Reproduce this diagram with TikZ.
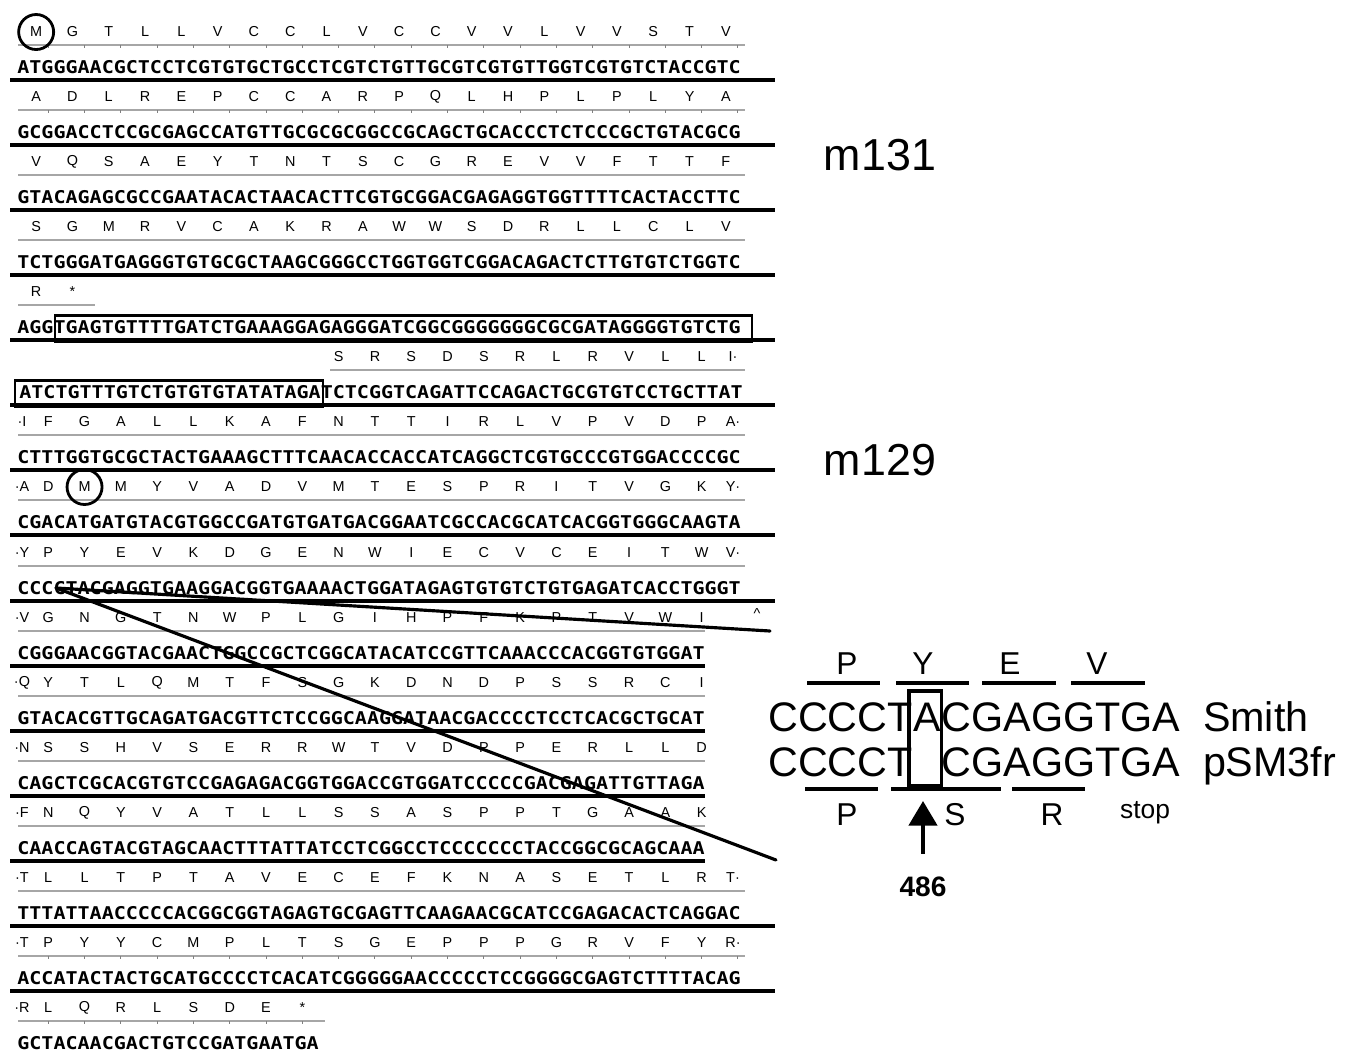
\documentclass[tikz,border=0pt]{standalone}
\usepackage{fontspec}
\setmainfont{Liberation Sans}
\newfontfamily\dnafont[FakeStretch=1.14]{DejaVu Sans Mono}
\usepackage{tikz}
\usetikzlibrary{arrows.meta, positioning, calc}
\tikzset{
  dna/.style={anchor=west, inner sep=0pt, font=\dnafont\bfseries\fontsize{10}{10}\selectfont},
  aa/.style={inner sep=0pt, font=\fontsize{8.2}{9}\selectfont},
  aarule/.style={draw=black!35, line width=1.1pt},
  aatick/.style={draw=black!50, line width=0.6pt},
  dnarule/.style={draw=black, line width=2.4pt},
  startM/.style={circle, draw=black, line width=1.6pt, minimum size=0.7cm, inner sep=0pt},
  intron/.style={draw=black, line width=1.7pt},
  gene/.style={font=\fontsize{25.5}{26}\selectfont, inner sep=0pt},
  zoomline/.style={draw=black, line width=1.8pt, line cap=round},
}

\begin{document}
\begin{tikzpicture}[
  x=0.02cm, y=-0.02cm,
  seq/.style={font=\fontsize{23.5}{24}\selectfont, inner sep=0pt, anchor=base west},
  codonbar/.style={draw=black, line width=2.2pt},
  codonlbl/.style={font=\fontsize{18}{18}\selectfont, inner sep=0pt},
  mutbox/.style={draw=black, line width=2pt},
  mutarrow/.style={-{Triangle[length=14pt,width=16pt]}, line width=2.3pt},
]
\useasboundingbox (0,0) rectangle (1350,1056);

  % thin rules under the amino acid rows
  \foreach \y in {45,110,175,240,435,500,566,891,956}
    \draw[aarule] (18,\y) -- (745,\y);
  \draw[aarule] (18,305) -- (95,305);
  \draw[aarule] (330,370) -- (745,370);
  \foreach \y in {631,696,761,826}
    \draw[aarule] (18,\y) -- (705,\y);
  \draw[aarule] (18,1021) -- (325,1021);
  \foreach \y in {45,110,956}
    \foreach \k in {0,...,19}
      \draw[aatick] ({18+(3*\k+2.5)*12.1},\y) -- ++(0,3);
  \foreach \k in {0,...,7}
    \draw[aatick] ({18+(3*\k+2.5)*12.1},1021) -- ++(0,3);

  % thick rules under the DNA rows
  \foreach \y in {80,145,210,275,340,405,470,535,601,926,991}
    \draw[dnarule] (10,\y) -- (775,\y);
  \foreach \y in {666,731,796,861}
    \draw[dnarule] (10,\y) -- (705,\y);

  % m131 frame
  \foreach \a [count=\i from 0] in {M,G,T,L,L,V,C,C,L,V,C,C,V,V,L,V,V,S,T,V}
    \node[aa] (r1a\i) at ({18+(3*\i+1.5)*12.1},32) {\a};
  \foreach \a [count=\i from 0] in {A,D,L,R,E,P,C,C,A,R,P,Q,L,H,P,L,P,L,Y,A}
    \node[aa] (r2a\i) at ({18+(3*\i+1.5)*12.1},97) {\a};
  \foreach \a [count=\i from 0] in {V,Q,S,A,E,Y,T,N,T,S,C,G,R,E,V,V,F,T,T,F}
    \node[aa] (r3a\i) at ({18+(3*\i+1.5)*12.1},162) {\a};
  \foreach \a [count=\i from 0] in {S,G,M,R,V,C,A,K,R,A,W,W,S,D,R,L,L,C,L,V}
    \node[aa] (r4a\i) at ({18+(3*\i+1.5)*12.1},227) {\a};
  \foreach \a [count=\i from 0] in {R,*}
    \node[aa] (r5a\i) at ({18+(3*\i+1.5)*12.1},292) {\a};

  % m129 frame
  \foreach \a [count=\i from 0] in {S,R,S,D,S,R,L,R,V,L,L}
    \node[aa] (r6a\i) at ({18+(25+3*\i+1.5)*12.1},357) {\a};
  \node[aa] (r6end) at (733,357) {I·};

  \node[aa] (r7lead) at (22,422) {·I};
  \foreach \a [count=\i from 0] in {F,G,A,L,L,K,A,F,N,T,T,I,R,L,V,P,V,D,P}
    \node[aa] (r7a\i) at ({18+(3*\i+2.5)*12.1},422) {\a};
  \node[aa] (r7end) at (733,422) {A·};

  \node[aa] (r8lead) at (22,487) {·A};
  \foreach \a [count=\i from 0] in {D,M,M,Y,V,A,D,V,M,T,E,S,P,R,I,T,V,G,K}
    \node[aa] (r8a\i) at ({18+(3*\i+2.5)*12.1},487) {\a};
  \node[aa] (r8end) at (733,487) {Y·};

  \node[aa] (r9lead) at (22,553) {·Y};
  \foreach \a [count=\i from 0] in {P,Y,E,V,K,D,G,E,N,W,I,E,C,V,C,E,I,T,W}
    \node[aa] (r9a\i) at ({18+(3*\i+2.5)*12.1},553) {\a};
  \node[aa] (r9end) at (733,553) {V·};

  \node[aa] (r10lead) at (22,618) {·V};
  \foreach \a [count=\i from 0] in {G,N,G,T,N,W,P,L,G,I,H,P,F,K,P,T,V,W,I}
    \node[aa] (r10a\i) at ({18+(3*\i+2.5)*12.1},618) {\a};
  \node[aa] (r10end) at (757,614) {\textasciicircum};

  \node[aa] (r11lead) at (22,683) {·Q};
  \foreach \a [count=\i from 0] in {Y,T,L,Q,M,T,F,S,G,K,D,N,D,P,S,S,R,C,I}
    \node[aa] (r11a\i) at ({18+(3*\i+2.5)*12.1},683) {\a};

  \node[aa] (r12lead) at (22,748) {·N};
  \foreach \a [count=\i from 0] in {S,S,H,V,S,E,R,R,W,T,V,D,P,P,E,R,L,L,D}
    \node[aa] (r12a\i) at ({18+(3*\i+2.5)*12.1},748) {\a};

  \node[aa] (r13lead) at (22,813) {·F};
  \foreach \a [count=\i from 0] in {N,Q,Y,V,A,T,L,L,S,S,A,S,P,P,T,G,A,A,K}
    \node[aa] (r13a\i) at ({18+(3*\i+2.5)*12.1},813) {\a};

  \node[aa] (r14lead) at (22,878) {·T};
  \foreach \a [count=\i from 0] in {L,L,T,P,T,A,V,E,C,E,F,K,N,A,S,E,T,L,R}
    \node[aa] (r14a\i) at ({18+(3*\i+2.5)*12.1},878) {\a};
  \node[aa] (r14end) at (733,878) {T·};

  \node[aa] (r15lead) at (22,943) {·T};
  \foreach \a [count=\i from 0] in {P,Y,Y,C,M,P,L,T,S,G,E,P,P,P,G,R,V,F,Y}
    \node[aa] (r15a\i) at ({18+(3*\i+2.5)*12.1},943) {\a};
  \node[aa] (r15end) at (733,943) {R·};

  \node[aa] (r16lead) at (22,1008) {·R};
  \foreach \a [count=\i from 0] in {L,Q,R,L,S,D,E,*}
    \node[aa] (r16a\i) at ({18+(3*\i+2.5)*12.1},1008) {\a};

  % start codons
  \node[startM] (start131) at (r1a0) {};
  \node[startM] (start129) at (r8a1) {};

  % DNA rows
  \node[dna] (d1)  at (17,67)   {ATGGGAACGCTCCTCGTGTGCTGCCTCGTCTGTTGCGTCGTGTTGGTCGTGTCTACCGTC};
  \node[dna] (d2)  at (17,132)  {GCGGACCTCCGCGAGCCATGTTGCGCGCGGCCGCAGCTGCACCCTCTCCCGCTGTACGCG};
  \node[dna] (d3)  at (17,197)  {GTACAGAGCGCCGAATACACTAACACTTCGTGCGGACGAGAGGTGGTTTTCACTACCTTC};
  \node[dna] (d4)  at (17,262)  {TCTGGGATGAGGGTGTGCGCTAAGCGGGCCTGGTGGTCGGACAGACTCTTGTGTCTGGTC};
  \node[dna] (d5)  at (17,327)  {AGGTGAGTGTTTTGATCTGAAAGGAGAGGGATCGGCGGGGGGGCGCGATAGGGGTGTCTG};
  \node[dna] (d6)  at (19,392)  {ATCTGTTTGTCTGTGTGTATATAGATCTCGGTCAGATTCCAGACTGCGTGTCCTGCTTAT};
  \node[dna] (d7)  at (17,457)  {CTTTGGTGCGCTACTGAAAGCTTTCAACACCACCATCAGGCTCGTGCCCGTGGACCCCGC};
  \node[dna] (d8)  at (17,522)  {CGACATGATGTACGTGGCCGATGTGATGACGGAATCGCCACGCATCACGGTGGGCAAGTA};
  \node[dna] (d9)  at (17,588)  {CCCCTACGAGGTGAAGGACGGTGAAAACTGGATAGAGTGTGTCTGTGAGATCACCTGGGT};
  \node[dna] (d10) at (17,653)  {CGGGAACGGTACGAACTGGCCGCTCGGCATACATCCGTTCAAACCCACGGTGTGGAT};
  \node[dna] (d11) at (17,718)  {GTACACGTTGCAGATGACGTTCTCCGGCAAGGATAACGACCCCTCCTCACGCTGCAT};
  \node[dna] (d12) at (17,783)  {CAGCTCGCACGTGTCCGAGAGACGGTGGACCGTGGATCCCCCGACGAGATTGTTAGA};
  \node[dna] (d13) at (17,848)  {CAACCAGTACGTAGCAACTTTATTATCCTCGGCCTCCCCCCCTACCGGCGCAGCAAA};
  \node[dna] (d14) at (17,913)  {TTTATTAACCCCCACGGCGGTAGAGTGCGAGTTCAAGAACGCATCCGAGACACTCAGGAC};
  \node[dna] (d15) at (17,978)  {ACCATACTACTGCATGCCCCTCACATCGGGGGAACCCCCTCCGGGGCGAGTCTTTTACAG};
  \node[dna] (d16) at (17,1043) {GCTACAACGACTGTCCGATGAATGA};

  % intron
  \draw[intron] (55,315) rectangle (752,341);
  \draw[intron] (15,380) rectangle (323,406);

  % gene names
  \node[gene] (m131) at (880,155) {m131};
  \node[gene] (m129) at (880,460) {m129};

  % enlarged region
  \node[seq] (smL) at (768,731) {CCCCT};
  \node[seq] (smA) at (smL.base east) {A};
  \node[seq] (smR) at (smA.base east) {CGAGGTGA};
  \node[seq] (smName) at ([xshift=12.5pt]smR.base east) {Smith};
  \node[seq] (psL) at (768,776) {CCCCT};
  \node[seq] (psA) at (psL.base east) {\phantom{A}};
  \node[seq] (psR) at (psA.base east) {CGAGGTGA};
  \node[seq] (psName) at ([xshift=12.5pt]psR.base east) {pSM3fr};
  \draw[mutbox] ([shift={(-4,-11)}]smA.north west) rectangle ([shift={(0,9)}]psA.south east);

  \foreach \l/\r/\c/\t in {807/880/847/P, 896/969/923/Y, 982/1056/1010/E, 1071/1145/1097/V} {
    \draw[codonbar] (\l,683) -- (\r,683);
    \node[codonlbl] (sm\t) at (\c,664) {\t};
  }
  \foreach \l/\r/\c/\t in {805/878/847/P, 891/1001/955/S, 1012/1085/1052/R} {
    \draw[codonbar] (\l,789) -- (\r,789);
    \node[codonlbl] (ps\t) at (\c,815) {\t};
  }
  \node[font=\fontsize{15}{15}\selectfont, inner sep=0pt] (psStop) at (1145,813) {stop};

  \node[font=\bfseries\fontsize{16}{16}\selectfont, inner sep=0pt] (site) at (923,887) {486};
  \coordinate (siteTip) at (923,801);
  \draw[mutarrow] ([yshift=13pt]site.north) -- (siteTip);

  % zoom lines
  \coordinate (zoomL) at (56,588);
  \coordinate (zoomT) at (770,631);
  \coordinate (zoomB) at (776,860);
  \draw[zoomline] (zoomL) -- (zoomT);
  \draw[zoomline] (zoomL) -- (zoomB);

\end{tikzpicture}
\end{document}
